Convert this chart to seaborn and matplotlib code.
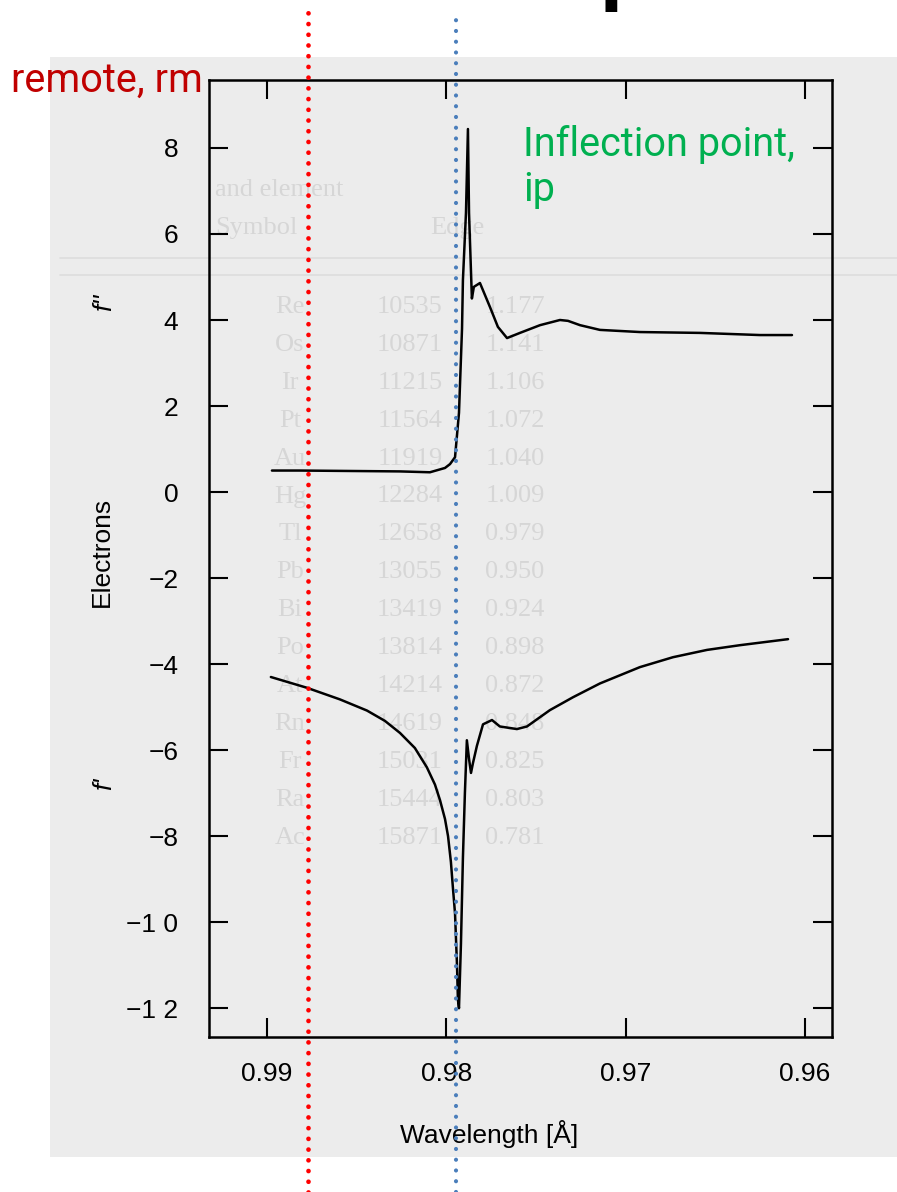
import matplotlib
matplotlib.use("Agg")
import numpy as np
import pandas as pd
import matplotlib.pyplot as plt
import seaborn as sns
from matplotlib.patches import Rectangle

# f'' (imaginary part), wavelength in Angstrom
fpp_wl = [0.98972, 0.98816, 0.98537, 0.98258, 0.98091, 0.98007, 0.97979, 0.97951,
          0.97929, 0.97912, 0.97907, 0.97890, 0.97879, 0.97873, 0.97857, 0.97846,
          0.97812, 0.97756, 0.97712, 0.97661, 0.97589, 0.97477, 0.97366, 0.97321,
          0.97254, 0.97143, 0.96920, 0.96585, 0.96250, 0.96072]
fpp_val = [0.50, 0.50, 0.49, 0.48, 0.46, 0.56, 0.65, 0.81,
           1.84, 3.80, 4.93, 6.49, 8.44, 6.49, 4.50, 4.77,
           4.86, 4.30, 3.84, 3.58, 3.70, 3.88, 4.00, 3.98,
           3.88, 3.77, 3.72, 3.70, 3.65, 3.65]

# f' (real part)
fp_wl = [0.98978, 0.98777, 0.98593, 0.98442, 0.98342, 0.98258, 0.98175, 0.98108,
         0.98063, 0.98035, 0.98007, 0.97990, 0.97974, 0.97963, 0.97951, 0.97946,
         0.97940, 0.97935, 0.97929, 0.97918, 0.97907, 0.97896, 0.97885, 0.97873,
         0.97862, 0.97851, 0.97829, 0.97795, 0.97745, 0.97701, 0.97606, 0.97550,
         0.97422, 0.97293, 0.97143, 0.96920, 0.96736, 0.96546, 0.96362, 0.96094]
fp_val = [-4.30, -4.55, -4.82, -5.08, -5.32, -5.60, -5.95, -6.40,
          -6.80, -7.16, -7.60, -8.00, -8.60, -9.19, -9.80, -10.35,
          -11.00, -11.80, -12.00, -10.50, -8.50, -7.00, -5.77, -6.20,
          -6.53, -6.30, -5.90, -5.40, -5.30, -5.45, -5.51, -5.45,
          -5.07, -4.77, -4.45, -4.07, -3.84, -3.67, -3.56, -3.42]

x_ticks = [0.99, 0.98, 0.97, 0.96]
x_ticklabels = ["0.99", "0.98", "0.97", "0.96"]
y_ticks = [8, 6, 4, 2, 0, -2, -4, -6, -8, -10, -12]
y_ticklabels = ["8", "6", "4", "2", "0", "\u22122", "\u22124", "\u22126", "\u22128",
                "\u22121 0", "\u22121 2"]

remote_wl = 0.98771
inflection_wl = 0.97946

# faint table showing through the scanned page
tbl_sym = ["Re", "Os", "Ir", "Pt", "Au", "Hg", "Tl", "Pb", "Bi", "Po", "At", "Rn", "Fr", "Ra", "Ac"]
tbl_ev = ["10535", "10871", "11215", "11564", "11919", "12284", "12658", "13055",
          "13419", "13814", "14214", "14619", "15031", "15444", "15871"]
tbl_wl = ["1.177", "1.141", "1.106", "1.072", "1.040", "1.009", "0.979", "0.950",
          "0.924", "0.898", "0.872", "0.848", "0.825", "0.803", "0.781"]

sns.set_theme(style="ticks")
plt.rcParams["font.family"] = ["Liberation Sans", "DejaVu Sans"]

W, H = 897, 1192
def fx(px):
    return px / W
def fy(py):
    return 1 - py / H

fig = plt.figure(figsize=(W / 100, H / 100), dpi=100)
fig.add_artist(Rectangle((fx(50), fy(1157)), fx(897) - fx(50), fy(57) - fy(1157),
                         transform=fig.transFigure, facecolor="#ececec",
                         edgecolor="none", zorder=-3))

# ghost text from the scanned page
ghost = "#d6d6d6"
for txt, px, py in [("and element", 215, 190), ("Symbol", 215, 228), ("Edge", 430, 228)]:
    fig.text(fx(px), fy(py), txt, color=ghost, family="Liberation Serif",
             fontsize=19, va="center", ha="left", zorder=-1)
for i in range(len(tbl_sym)):
    py = 307 + 37.9 * i
    for txt, px in [(tbl_sym[i], 290), (tbl_ev[i], 410), (tbl_wl[i], 515)]:
        fig.text(fx(px), fy(py), txt, color=ghost, family="Liberation Serif",
                 fontsize=19, va="center", ha="center", zorder=-1)
for py in [258, 275]:
    fig.add_artist(plt.Line2D([fx(60), fx(897)], [fy(py), fy(py)], color="#dddddd",
                              lw=1.2, transform=fig.transFigure, zorder=-2))

ax = fig.add_axes([0.2330, 0.1300, 0.6945, 0.8029])
ax.set_facecolor("none")

df = pd.concat([
    pd.DataFrame({"wavelength": fpp_wl, "electrons": fpp_val, "component": "f''"}),
    pd.DataFrame({"wavelength": fp_wl, "electrons": fp_val, "component": "f'"}),
])
sns.lineplot(data=df, x="wavelength", y="electrons", hue="component",
             palette=["black", "black"], estimator=None, sort=False,
             legend=False, lw=1.8, ax=ax)

ax.set_xlim(0.99323, 0.95849)
ax.set_ylim(-12.67, 9.58)
ax.set_xticks(x_ticks)
ax.set_xticklabels(x_ticklabels)
ax.set_yticks(y_ticks)
ax.set_yticklabels(y_ticklabels)
for s in ax.spines.values():
    s.set_visible(True)
    s.set_linewidth(1.8)
    s.set_color("black")
ax.tick_params(direction="in", length=14, width=1.5, top=True, right=True,
               colors="black", labelsize=19)
ax.tick_params(axis="x", pad=18)
ax.tick_params(axis="y", pad=22)

ax.set_xlabel("Wavelength [\u00c5]", fontsize=19, color="black")
ax.xaxis.set_label_coords(0.449, -0.087)
ax.set_ylabel("Electrons", fontsize=19, color="black")
ax.yaxis.set_label_coords(-0.152, 0.507)

fig.text(fx(104), fy(302), "f''", rotation=90, style="italic", fontsize=19,
         ha="center", va="center", color="black")
fig.text(fx(104), fy(784), "f'", rotation=90, style="italic", fontsize=19,
         ha="center", va="center", color="black")

# reference wavelengths (dotted markers)
ax.axvline(remote_wl, ymin=-0.162, ymax=1.073, color="#ff0000", lw=3.4,
           ls=(0, (0.01, 2.26)), dash_capstyle="round", clip_on=False, zorder=6)
ax.axvline(inflection_wl, ymin=-0.162, ymax=1.066, color="#4a7ebb", lw=3.0,
           ls=(0, (0.01, 2.57)), dash_capstyle="round", clip_on=False, zorder=6)

fig.text(fx(11), fy(92), "remote, rm", color="#c00000", family="Roboto",
         fontsize=28.5, ha="left", va="baseline")
fig.text(fx(523), fy(156), "Inflection point,", color="#00b050", family="Roboto",
         fontsize=28.5, ha="left", va="baseline")
fig.text(fx(523), fy(201), "ip", color="#00b050", family="Roboto",
         fontsize=28.5, ha="left", va="baseline")

# bottom of the slide title, cut off at the top edge
fig.text(fx(600), fy(-5), "p", color="black", family="Roboto", fontweight="bold",
         fontsize=60, ha="left", va="baseline")

fig.savefig("out.png", dpi=100)
